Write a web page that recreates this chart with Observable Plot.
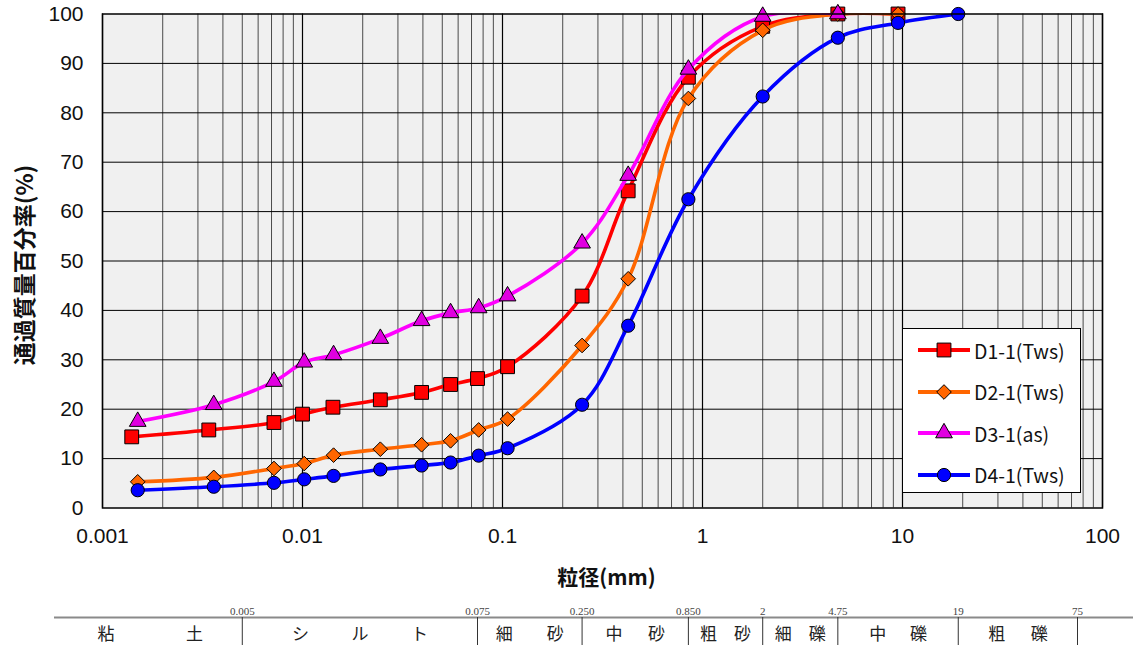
<!DOCTYPE html>
<html>
<head>
<meta charset="utf-8">
<script src="https://cdn.jsdelivr.net/npm/d3@7"></script>
<script src="https://cdn.jsdelivr.net/npm/@observablehq/plot@0.6"></script>
<style>
  html, body { margin: 0; padding: 0; background: #fff; }
  #wrap { position: relative; width: 1133px; height: 645px; overflow: hidden; }
  #main, #strip { position: absolute; left: 0; }
  #main { top: 0; }
  #strip { top: 595px; }
  #legend { position: absolute; left: 902px; top: 328px; width: 179px; height: 165px;
    background: #fff; border: 1.5px solid #000; box-sizing: border-box; }
  .lg { position: absolute; left: 14px; height: 24px; display: flex; align-items: center;
    font-family: "Noto Sans CJK JP", "Liberation Sans", sans-serif; font-size: 19.5px; color: #111; }
  .lg svg { margin-right: 3px; }
</style>
</head>
<body>
<div id="wrap">
  <div id="main"></div>
  <div id="strip"></div>
  <div id="legend"></div>
</div>
<script>
// ---- data ----
const seriesNames = ["D1-1(Tws)", "D2-1(Tws)", "D3-1(as)", "D4-1(Tws)"];
const seriesColors = ["#ff0000", "#ff6600", "#ff00ff", "#0000ff"];
const markerFills = ["#ff0000", "#ff6600", "#e000e0", "#0000ff"];
const markerSymbols = ["square", "diamond2", "triangle", "circle"];

const sizesD1 = [0.0014, 0.0034, 0.0072, 0.0100, 0.0142, 0.0245, 0.0394, 0.055, 0.075, 0.106, 0.25, 0.425, 0.85, 2, 4.75, 9.5];
const sizesOther = [0.0015, 0.0036, 0.0072, 0.0102, 0.0143, 0.0245, 0.0394, 0.055, 0.076, 0.106, 0.25, 0.425, 0.85, 2, 4.75, 9.5, 19];

const passD1 = [14.4, 15.8, 17.3, 19.0, 20.4, 21.9, 23.4, 25.0, 26.2, 28.6, 42.9, 64.2, 87.2, 97.5, 100, 100];
const passD2 = [5.3, 6.2, 8.0, 9.0, 10.7, 11.9, 12.8, 13.6, 15.8, 18.0, 32.9, 46.4, 82.9, 96.7, 100, 100];
const passD3 = [17.5, 20.9, 25.6, 29.5, 31.0, 34.3, 37.9, 39.5, 40.5, 42.9, 53.6, 67.3, 88.8, 99.5, 100];
const passD4 = [3.6, 4.3, 5.1, 5.8, 6.5, 7.8, 8.6, 9.2, 10.6, 12.1, 20.9, 36.9, 62.5, 83.3, 95.2, 98.2, 100];

const xTickValues = [0.001, 0.01, 0.1, 1, 10, 100];
const xTickLabels = ["0.001", "0.01", "0.1", "1", "10", "100"];
const yTickValues = [0, 10, 20, 30, 40, 50, 60, 70, 80, 90, 100];

const classBounds = [0.005, 0.075, 0.25, 0.85, 2, 4.75, 19, 75];
const classBoundLabels = ["0.005", "0.075", "0.250", "0.850", "2", "4.75", "19", "75"];
const classLow = [0.0006, 0.005, 0.075, 0.25, 0.85, 2, 4.75, 19];
const classHigh = [0.005, 0.075, 0.25, 0.85, 2, 4.75, 19, 75];
const classNames = ["粘\u3000\u3000\u3000\u3000\u2009土", "シ\u3000\u3000\u2002ル\u3000\u3000\u2002ト", "細\u3000\u3000砂", "中\u3000\u2002砂", "粗\u3000砂", "細\u3000礫", "中\u3000\u2009\u2009礫", "粗\u3000\u2002礫"];

// ---- build tables ----
const passAll = [passD1, passD2, passD3, passD4];
const rows = passAll.map((vals, s) => vals.map((p, i) => ({
  s, d: (s === 0 ? sizesD1 : sizesOther)[i], p
})));
const xGrid = d3.scaleLog().domain([0.001, 100]).ticks();
const isMajor = d => Math.abs(Math.log10(d) - Math.round(Math.log10(d))) < 1e-9;

const fontLatin = "'Liberation Sans', Arial, sans-serif";
const fontCJK = "'Noto Sans CJK JP', 'Liberation Sans', sans-serif";

const marks = [
  Plot.frame({fill: "#f0f0f0"}),
  Plot.ruleX(xGrid.filter(d => !isMajor(d)), {stroke: "#222", strokeWidth: 1, strokeOpacity: 0.8}),
  Plot.ruleX(xGrid.filter(isMajor), {stroke: "#000", strokeWidth: 1.2}),
  Plot.ruleY(yTickValues.filter(v => v > 0 && v < 100), {stroke: "#000", strokeWidth: 1})
];
rows.forEach((data, s) => {
  marks.push(Plot.line(data, {x: "d", y: "p", stroke: seriesColors[s], strokeWidth: 3.6,
    curve: "catmull-rom", clip: true}));
  marks.push(Plot.dot(data, {x: "d", y: "p", symbol: () => markerSymbols[s],
    r: [7.8, 6.6, 6.2, 6.6][s], fill: markerFills[s], stroke: "#000", strokeWidth: 1}));
});
marks.push(Plot.frame({stroke: "#000", strokeWidth: 1.5}));
marks.push(Plot.text(["通過質量百分率(%)"], {frameAnchor: "left", textAnchor: "middle", dx: -77, dy: 4, rotate: -90,
  fontSize: 23, fontWeight: "bold", fontFamily: fontCJK, fill: "#111"}));
marks.push(Plot.text(["粒径(mm)"], {frameAnchor: "bottom", textAnchor: "middle", dx: 4, dy: 77,
  fontSize: 21, fontWeight: "bold", fontFamily: fontCJK, fill: "#111"}));

const main = Plot.plot({
  width: 1133, height: 595,
  marginLeft: 102, marginRight: 31, marginTop: 13.5, marginBottom: 87.5,
  style: {fontFamily: fontLatin, fontSize: "21px", color: "#111", background: "transparent"},
  x: {type: "log", domain: [0.001, 100], ticks: xTickValues,
      tickFormat: d => xTickLabels[xTickValues.findIndex(v => Math.abs(v - d) < 1e-12)] ?? "",
      tickSize: 0, tickPadding: 20, label: null},
  y: {domain: [0, 100], ticks: yTickValues, tickSize: 0, tickPadding: 19, label: null},
  symbol: {type: "identity"},
  marks
});
document.getElementById("main").appendChild(main);

// ---- classification strip ----
const classRows = classNames.map((name, i) => ({name, x: Math.sqrt(classLow[i] * classHigh[i])}));
const boundRows = classBounds.map((b, i) => ({b, label: classBoundLabels[i]}));
const strip = Plot.plot({
  width: 1133, height: 50,
  marginLeft: 54, marginRight: 0, marginTop: 0, marginBottom: 0,
  style: {background: "transparent"},
  x: {type: "log", domain: [0.001, 100], range: [102, 1102], axis: null},
  y: {domain: [0, 50], range: [0, 50], axis: null},
  marks: [
    Plot.ruleY([22], {stroke: "#8a8a8a", strokeWidth: 2}),
    Plot.ruleX(boundRows, {x: "b", y1: 22, y2: 50, stroke: "#333", strokeWidth: 1}),
    Plot.text(boundRows, {x: "b", y: 15.5, text: "label", fontSize: 11,
      fontFamily: "'Liberation Serif', 'DejaVu Serif', serif", fill: "#444"}),
    Plot.text(classRows, {x: "x", y: 39, text: "name", fontSize: 17,
      fontFamily: fontCJK, fill: "#222"})
  ]
});
document.getElementById("strip").appendChild(strip);

// ---- legend ----
const legend = document.getElementById("legend");
seriesNames.forEach((name, s) => {
  const row = document.createElement("div");
  row.className = "lg";
  row.style.top = (9 + s * 41.5) + "px";
  const symSize = [7.8, 6.6, 6.2, 6.6][s];
  const path = d3.symbol(
    [d3.symbolSquare, d3.symbolDiamond2, d3.symbolTriangle, d3.symbolCircle][s],
    Math.PI * symSize * symSize)();
  row.innerHTML = `<svg width="54" height="24"><line x1="1" x2="53" y1="12" y2="12" stroke="${seriesColors[s]}" stroke-width="4"/>` +
    `<path d="${path}" transform="translate(27,12)" fill="${markerFills[s]}" stroke="#000" stroke-width="1"/></svg><span>${name}</span>`;
  legend.appendChild(row);
});
</script>
</body>
</html>
